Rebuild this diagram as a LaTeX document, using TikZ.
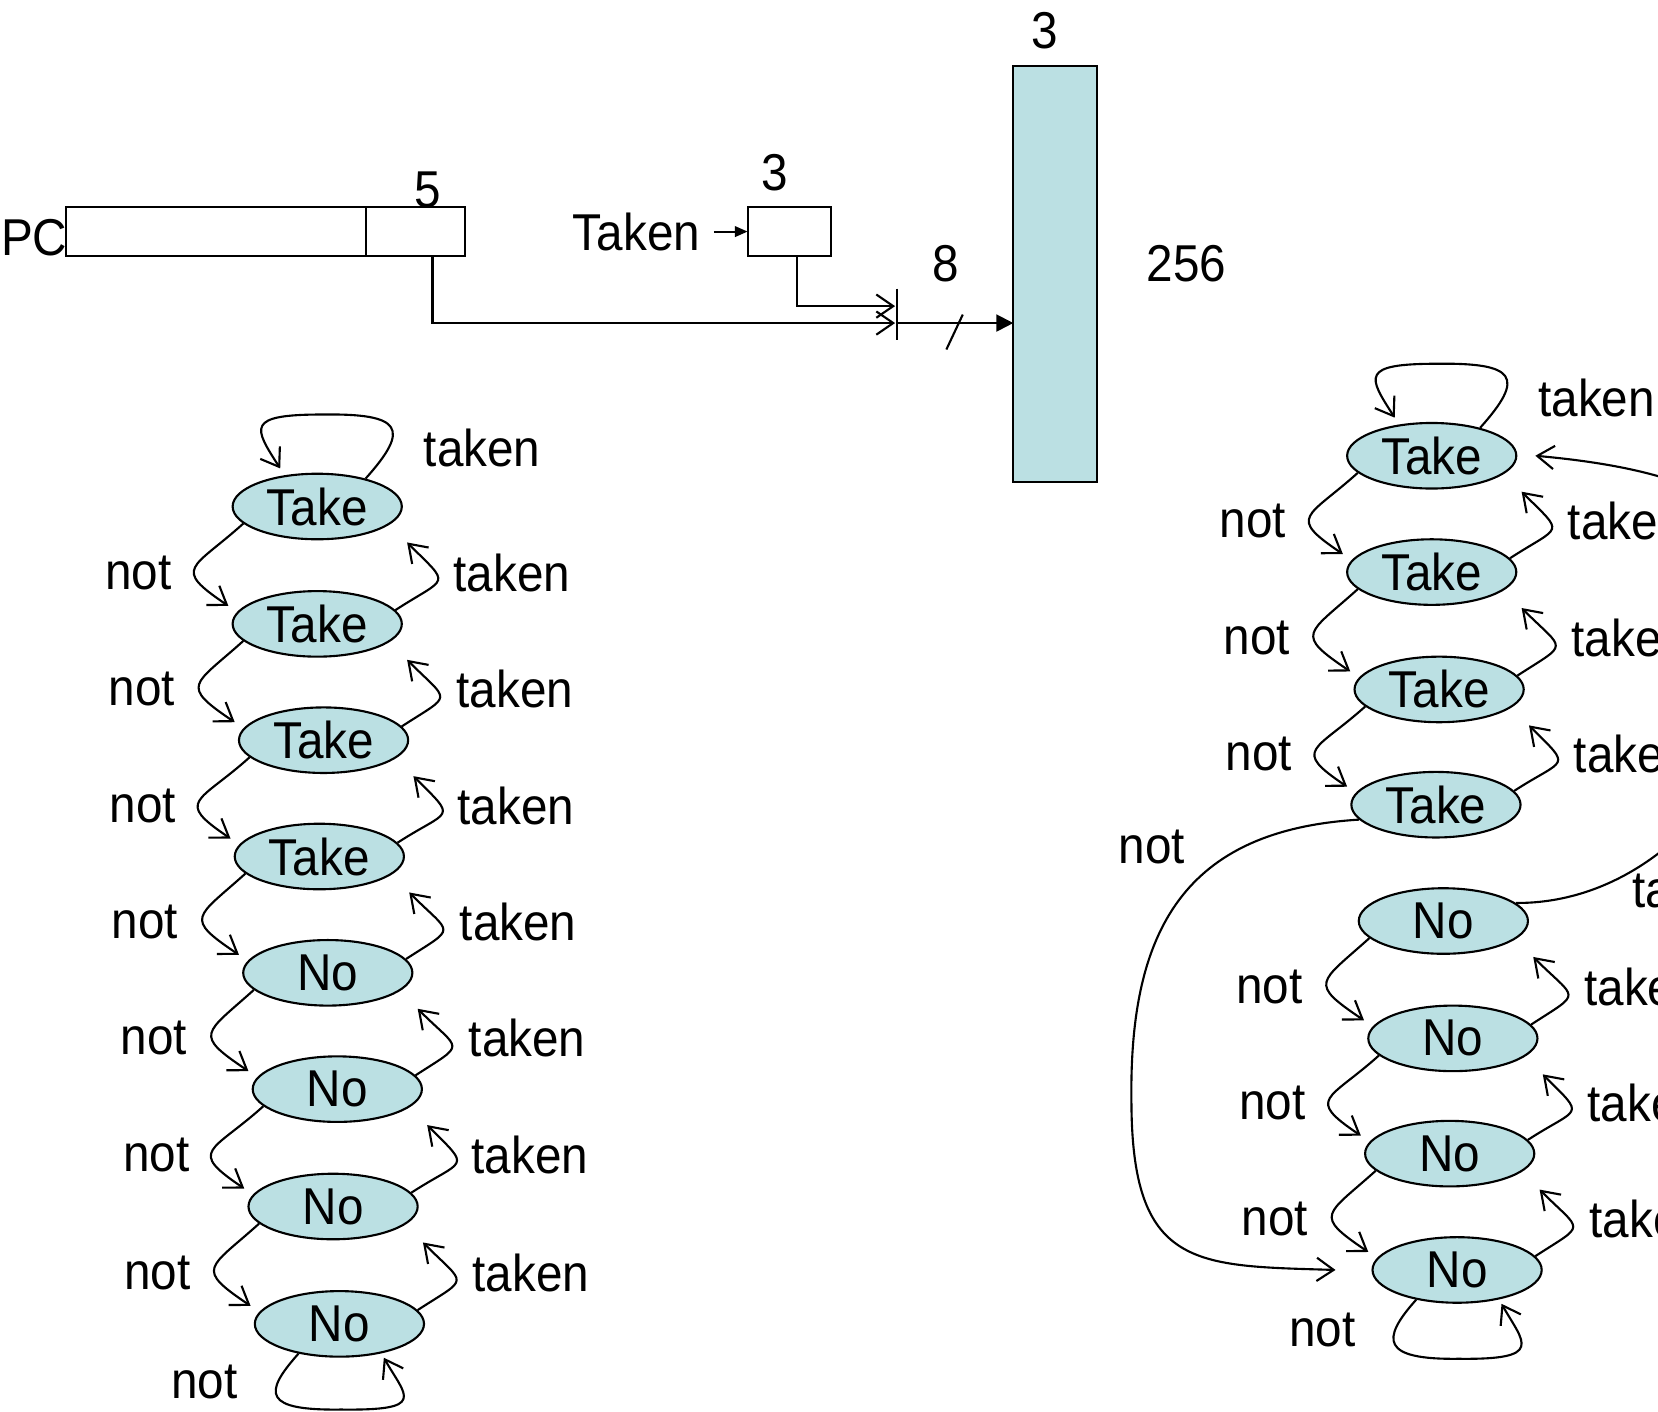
\documentclass[tikz,border=0pt]{standalone}
\usepackage{fontspec}
\setmainfont{Liberation Sans}[FakeStretch=0.92]
\usepackage{tikz}
\usetikzlibrary{arrows.meta,positioning,calc,shapes.geometric}
\definecolor{cellblue}{HTML}{BBE0E3}
\tikzset{
  >=Stealth,
  every picture/.append style={line width=1pt},
  every node/.append style={font=\fontsize{24.5}{29}\selectfont},
}
\tikzset{
  state/.style={ellipse, draw, fill=cellblue, minimum width=80pt, minimum height=31pt, inner sep=0pt},
  reg/.style={rectangle, draw, outer sep=0pt, inner sep=0pt, minimum height=23pt},
  arr/.style={-{Straight Barb[length=8pt,width=11pt]}},
  farr/.style={-{Triangle[length=8pt,width=8pt]}},
  lbl/.style={inner sep=0pt}
}
\begin{document}
\begin{tikzpicture}[x=0.5pt, y=-0.5pt]
\useasboundingbox (0,0) rectangle (1568,1335.3);
\clip (0,0) rectangle (1568,1335.3);

% ============= Index path =============
\node[reg, minimum width=142pt] (pchi) at (204,219) {};
\node[reg, minimum width=47pt, right=0pt of pchi] (pclo) {};
\node[lbl, anchor=base west] (pclbl) at (0,242) {PC};
\node[lbl, anchor=base] (pcbits) at ([xshift=6pt]pclo.north) {5};

\node[reg, minimum width=39.5pt] (hist) at (746.5,219) {};
\node[lbl, left=22pt of hist] (tkn) {Taken};
\node[lbl, anchor=base] (histbits) at ([xshift=-7pt,yshift=8pt]hist.north) {3};
\draw[-{Triangle[length=6pt,width=5pt]}, shorten <=6pt] (tkn) -- (hist);

% counter table
\node[reg, fill=cellblue, minimum width=39.7pt, minimum height=196.7pt] (tbl) at (998,258.8) {};
\node[lbl, anchor=base] (tblbits) at ([xshift=-5pt,yshift=8pt]tbl.north) {3};
\node[lbl, right=23pt of tbl, yshift=4.5pt] (tblrows) {256};

% concatenation
\node[minimum height=24.5pt, minimum width=0pt, inner sep=0pt, outer sep=0pt] (mrg) at (848.5,297.5) {};
\draw (mrg.north) -- (mrg.south);
\draw[arr, shorten >=1pt] ([xshift=8pt]pclo.south) |- ([yshift=-4pt]mrg.west);
\draw[arr, shorten >=1pt] ([xshift=3.75pt]hist.south) |- ([yshift=4pt]mrg.west);
\coordinate (mrgout) at ([yshift=-4pt]mrg.east);
\draw[farr] (mrgout) -- (mrgout -| tbl.west);
\draw (mrgout) ++(46.5,25) -- ++(15.5,-33);
\node[lbl] (idxbits) at ([xshift=22.75pt,yshift=24pt]mrg) {8};

% ============= Left chain =============
\foreach \n/\x/\y/\txt in {1/300/479/Take, 2/300/590/Take, 3/306/700/Take, 4/302/810/Take,
                           5/310/920/No, 6/319/1030/No, 7/315/1141/No, 8/321/1252/No}
  \node[state] (L\n) at (\x,\y) {\txt};
\foreach \i/\j in {1/2,2/3,3/4,4/5,5/6,6/7,7/8} {
  \draw[arr] (L\i.193) to[out=222,in=146,looseness=2.1] ([xshift=-1.5pt,yshift=8.5pt]L\j.west);
  \draw[arr] (L\j.10) to[out=33,in=-45,looseness=2.35] ([xshift=2pt,yshift=-17pt]L\i.east);
  \node[lbl] (Lnot\i) at ($(L\i)!0.5!(L\j)+(-169,7)$) {not};
  \node[lbl] (Ltkn\i) at ($(L\i)!0.5!(L\j)+(184,7)$) {taken};
}
\draw[arr] (L1.30) .. controls +(43,-48) and +(75,-1) .. ([xshift=2.5pt,yshift=27.5pt]L1.north)
  .. controls +(-73,0) and +(-25,-39) .. ([xshift=-17.5pt,yshift=2pt]L1.north);
\node[lbl] (Ltop) at ($(L1)+(156,-55)$) {taken};
\draw[arr] (L8.216) .. controls +(-34,38) and +(-73,1) .. ([xshift=0.75pt,yshift=-24.5pt]L8.south)
  .. controls +(82,1) and +(21,37) .. ([xshift=21pt]L8.south);
\node[lbl] (Lbot) at ($(L8)+(-127.5,55)$) {not};

% ============= Right chain =============
\foreach \n/\x/\y/\txt in {1/1354/431/Take, 2/1354/541/Take, 3/1361/652/Take, 4/1358/761/Take,
                           5/1365/871/No, 6/1374/982/No, 7/1371/1091/No, 8/1378/1201/No}
  \node[state] (R\n) at (\x,\y) {\txt};
\foreach \i/\j in {1/2,2/3,3/4,5/6,6/7,7/8} {
  \draw[arr] (R\i.193) to[out=222,in=146,looseness=2.1] ([xshift=-1.5pt,yshift=8.5pt]R\j.west);
  \draw[arr] (R\j.10) to[out=33,in=-45,looseness=2.35] ([xshift=2pt,yshift=-17pt]R\i.east);
  \node[lbl] (Rnot\i) at ($(R\i)!0.5!(R\j)+(-169,7)$) {not};
  \node[lbl] (Rtkn\i) at ($(R\i)!0.5!(R\j)+(184,7)$) {taken};
}
\draw[arr] (R1.30) .. controls +(43,-48) and +(75,-1) .. ([xshift=2.5pt,yshift=27.5pt]R1.north)
  .. controls +(-73,0) and +(-25,-39) .. ([xshift=-17.5pt,yshift=2pt]R1.north);
\node[lbl] (Rtop) at ($(R1)+(156,-55)$) {taken};
\draw[arr] (R8.216) .. controls +(-34,38) and +(-73,1) .. ([xshift=0.75pt,yshift=-26pt]R8.south)
  .. controls +(82,1) and +(21,37) .. ([xshift=21pt]R8.south);
\node[lbl] (Rbot) at ($(R8)+(-127.5,57)$) {not};

% jumps between the halves
\draw[arr] (R4.191) .. controls (1120,785) and (1068,880) .. (1070,1040)
  .. controls (1070,1200) and (1130,1197) .. ([xshift=-17pt]R8.west);
\node[lbl] (Rjnot) at ($(R4)+(-268.5,40)$) {not};
\draw[arr] (R5.14) .. controls (1570,855) and (1680,720) .. (1680,580)
  .. controls (1680,500) and (1640,448) .. ([xshift=8.5pt]R1.east);
\node[lbl] (Rjtkn) at ($(R5)+(234,-30)$) {taken};

\end{tikzpicture}
\end{document}
